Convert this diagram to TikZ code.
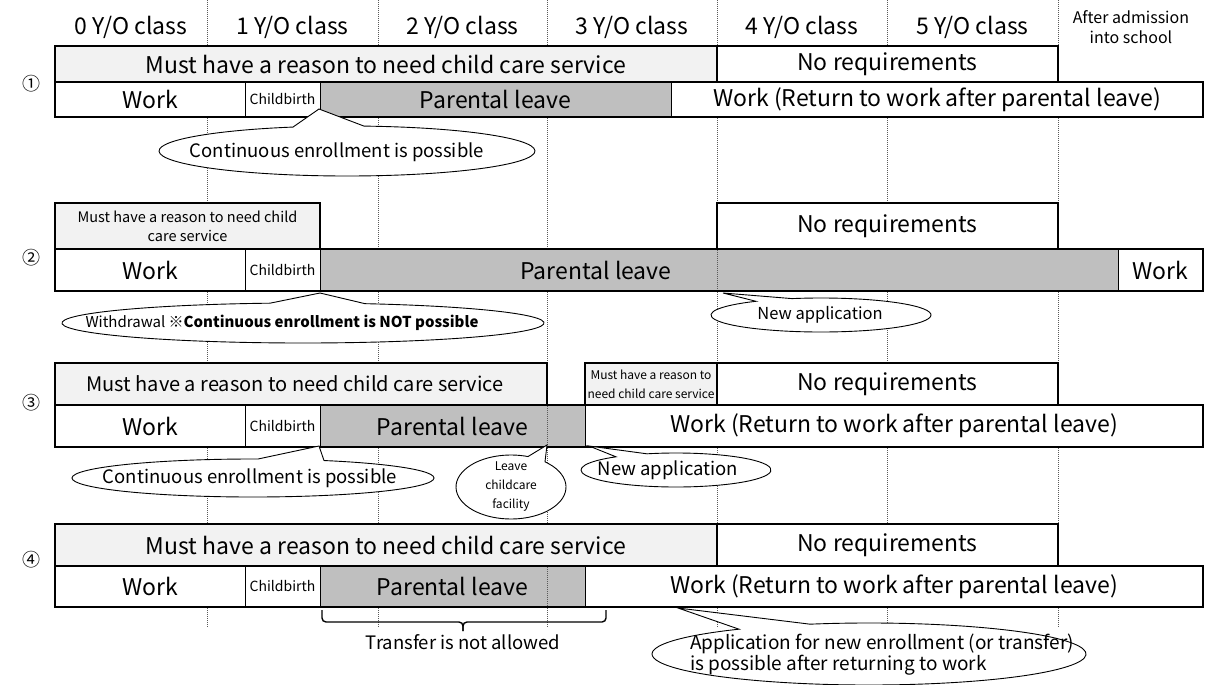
\documentclass[tikz,border=0pt]{standalone}
\usepackage{fontspec}
\setmainfont{Noto Sans CJK JP}
\usetikzlibrary{calc}
\definecolor{reqgray}{HTML}{F2F2F2}
\definecolor{leavegray}{HTML}{BFBFBF}
\definecolor{dotcol}{HTML}{595959}
\newcommand\bx[7]{\node[#2, minimum width={#5-#3}, minimum height={#6-#4}] (#1) at ({(#3+#5)/2},{(#4+#6)/2}) {#7};}
\newcommand\callout[7]{%
  \pgfmathsetmacro\thR{-acos((#5-#1)/#3)}%
  \pgfmathsetmacro\thL{360-acos((#6-#1)/#3)}%
  \draw[calloutline] (#1,#2) ++(\thR:#3 and #4) arc[start angle=\thR, end angle=\thL, x radius=#3, y radius=#4] -- (#7) -- cycle;}
\begin{document}
\begin{tikzpicture}[x=1pt,y=-1pt,
  every node/.style={inner sep=0pt, outer sep=0pt, text=black},
  big/.style={font=\fontsize{23}{27}\selectfont},
  hdr/.style={font=\fontsize{23}{27}\selectfont},
  callf/.style={font=\fontsize{18.5}{22}\selectfont},
  reqbox/.style={draw, line width=1.6pt, fill=reqgray, big},
  nobox/.style={draw, line width=1.6pt, fill=white, big},
  seg/.style={draw, line width=0.7pt, fill=white, big},
  leaveseg/.style={draw, line width=0.7pt, fill=leavegray, big},
  birth/.style={draw, line width=0.7pt, fill=white, font=\fontsize{14}{16}\selectfont},
  outline/.style={draw, line width=1.6pt},
  dotline/.style={dotcol, line width=0.8pt, dash pattern=on 1pt off 1pt},
  calloutline/.style={draw=black, line width=0.9pt, fill=white},
  num/.style={font=\fontsize{18}{20}\selectfont}]
\fill[white] (0,0) rectangle (1215,685);
\useasboundingbox (0,0) rectangle (1215,685);
% column guides
\foreach \x in {207,378,547,717,887,1058} \draw[dotline] (\x,0) -- (\x,628);
% header
\node[hdr] (h0) at (131,27) {0 Y/O class};
\node[hdr] (h1) at (292.5,27) {1 Y/O class};
\node[hdr] (h2) at (462.5,27) {2 Y/O class};
\node[hdr] (h3) at (632,27) {3 Y/O class};
\node[hdr] (h4) at (802,27) {4 Y/O class};
\node[hdr] (h5) at (972.5,27) {5 Y/O class};
\node[font=\fontsize{16}{20}\selectfont, align=center] (h6) at (1131,27) {After admission\\into school};
% row 1
\node[num] (n1) at (31,84) {①};
\bx{r1req}{reqbox}{55}{46}{717}{82}{Must have a reason to need child care service}
\bx{r1no}{nobox}{717}{46}{1058}{82}{No requirements}
\bx{r1w}{seg}{55}{82}{245}{117}{Work}
\bx{r1c}{birth}{245}{82}{320}{117}{Childbirth}
\bx{r1l}{leaveseg}{320}{82}{671}{117}{Parental leave}
\bx{r1r}{seg}{671}{82}{1203}{117}{Work (Return to work after parental leave)}
\draw[outline] (r1w.north west) rectangle (r1r.south east);
% row 2
\node[num] (n2) at (31,258) {②};
\bx{r2req}{reqbox}{55}{203}{320}{249}{}
\node[font=\fontsize{14.5}{19}\selectfont, align=center] (r2reqt) at (r2req) {Must have a reason to need child\\care service};
\bx{r2no}{nobox}{717}{203}{1058}{249}{No requirements}
\bx{r2w}{seg}{55}{249}{245}{291}{Work}
\bx{r2c}{birth}{245}{249}{320}{291}{Childbirth}
\bx{r2l}{leaveseg}{320}{249}{1118}{291}{}
\node[big] (r2lt) at (596,270) {Parental leave};
\bx{r2w2}{seg}{1118}{249}{1203}{291}{Work}
\draw[outline] (r2w.north west) rectangle (r2w2.south east);
\draw[dotline] (717,250) -- (717,290);
% row 3
\node[num] (n3) at (31,403) {③};
\bx{r3req}{reqbox}{55}{363}{547}{405}{}
\node[font=\fontsize{20}{24}\selectfont] (r3reqt) at (295,384) {Must have a reason to need child care service};
\bx{r3req2}{reqbox}{585}{363}{717}{405}{}
\node[font=\fontsize{12}{19}\selectfont, align=center] (r3req2t) at (r3req2) {Must have a reason to\\need child care service};
\bx{r3no}{nobox}{717}{363}{1058}{405}{No requirements}
\bx{r3w}{seg}{55}{405}{245}{447}{Work}
\bx{r3c}{birth}{245}{405}{320}{447}{Childbirth}
\bx{r3l}{leaveseg}{320}{405}{585}{447}{Parental leave}
\bx{r3r}{seg}{585}{405}{1203}{447}{Work (Return to work after parental leave)}
\draw[outline] (r3w.north west) rectangle (r3r.south east);
\draw[dotline] (547,406) -- (547,446);
% row 4
\node[num] (n4) at (31,560) {④};
\bx{r4req}{reqbox}{55}{524}{717}{566}{Must have a reason to need child care service}
\bx{r4no}{nobox}{717}{524}{1058}{566}{No requirements}
\bx{r4w}{seg}{55}{566}{245}{607}{Work}
\bx{r4c}{birth}{245}{566}{320}{607}{Childbirth}
\bx{r4l}{leaveseg}{320}{566}{585}{607}{Parental leave}
\bx{r4r}{seg}{585}{566}{1203}{607}{Work (Return to work after parental leave)}
\draw[outline] (r4w.north west) rectangle (r4r.south east);
\draw[dotline] (547,567) -- (547,606);
% brace
\coordinate (brL) at (322,610);
\coordinate (brR) at (606,610);
\coordinate (brT) at (463,631);
\draw[line width=1.4pt, rounded corners=4pt] (brL) |- ($(brT)+(0,-9)$) -- (brT);
\draw[line width=1.4pt, rounded corners=4pt] (brR) |- ($(brT)+(0,-9)$) -- (brT);
\node[callf] (transfer) at (463,642) {Transfer is not allowed};
% callouts
\coordinate (t1) at (319,109);
\callout{347}{151}{188}{25}{364}{293}{t1}
\node[callf] (c1) at (337,152) {Continuous enrollment is possible};
\coordinate (t2) at (320,293);
\callout{303}{323}{241}{20}{365}{270}{t2}
\node[font=\fontsize{15}{18}\selectfont] (c2) at (282,323) {Withdrawal ※\textbf{Continuous enrollment is NOT possible}};
\coordinate (t3) at (723,293);
\callout{821}{315}{110}{17}{792}{756}{t3}
\node[font=\fontsize{16.5}{20}\selectfont] (c3) at (820,315) {New application};
\coordinate (t4) at (319,446);
\callout{253}{478}{181}{19}{324}{258}{t4}
\node[callf] (c4) at (250,478) {Continuous enrollment is possible};
\coordinate (t5) at (547,445);
\callout{511}{487}{55}{32}{545}{528}{t5}
\node[font=\fontsize{12}{19}\selectfont, align=center] (c5) at (511,486) {Leave\\childcare\\facility};
\coordinate (t6) at (589,446);
\callout{676}{470}{95}{17}{647}{616}{t6}
\node[callf] (c6) at (668,470) {New application};
\coordinate (t7) at (678,608);
\callout{869}{654}{217}{31}{810}{739}{t7}
\node[font=\fontsize{19}{21}\selectfont, align=left, anchor=west] (c7) at (690,655) {Application for new enrollment (or transfer)\\is possible after returning to work};
\end{tikzpicture}
\end{document}
